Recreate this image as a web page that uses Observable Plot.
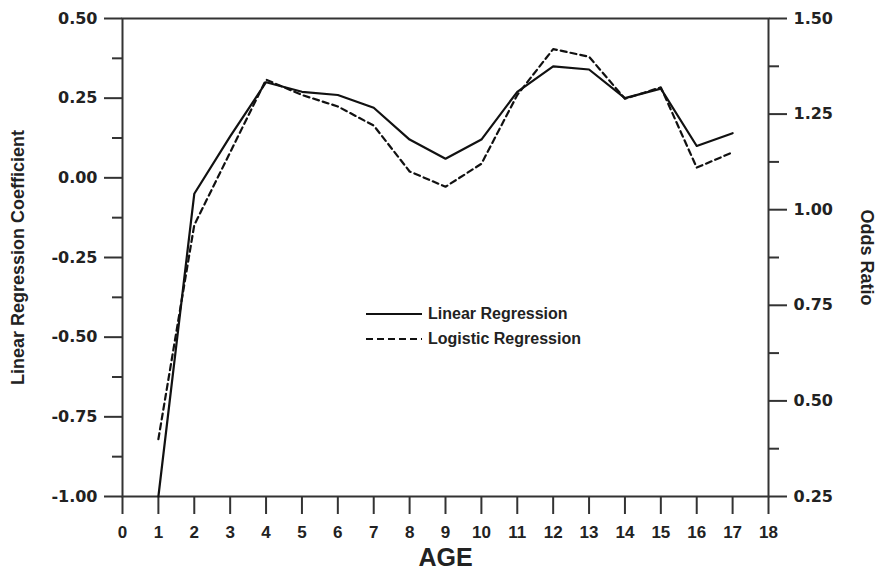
<!DOCTYPE html>
<html><head><meta charset="utf-8">
<script src="https://cdn.jsdelivr.net/npm/d3@7"></script>
<script src="https://cdn.jsdelivr.net/npm/@observablehq/plot@0.6"></script>
<style>
body{margin:0;background:#fff;}
#wrap{position:relative;width:879px;height:579px;}
#legend{position:absolute;left:366px;top:301px;font-family:"Liberation Sans",Arial,sans-serif;font-size:16px;font-weight:bold;color:#222;line-height:25px;}
#legend div{display:flex;align-items:center;height:25px;}
#legend svg{margin-right:6px;}
</style></head><body><div id="wrap"></div>
<script>
const ages = [1, 2, 3, 4, 5, 6, 7, 8, 9, 10, 11, 12, 13, 14, 15, 16, 17];
const linearCoef = [-1.00, -0.05, 0.13, 0.30, 0.27, 0.26, 0.22, 0.12, 0.06, 0.12, 0.27, 0.35, 0.34, 0.25, 0.28, 0.10, 0.14];
const logisticOdds = [0.40, 0.96, 1.15, 1.34, 1.30, 1.27, 1.22, 1.10, 1.06, 1.12, 1.30, 1.42, 1.40, 1.29, 1.32, 1.11, 1.15];
const xTicks = [0, 1, 2, 3, 4, 5, 6, 7, 8, 9, 10, 11, 12, 13, 14, 15, 16, 17, 18];
const leftTicks = [-1.00, -0.75, -0.50, -0.25, 0.00, 0.25, 0.50];
const leftMinor = [-0.875, -0.625, -0.375, -0.125, 0.125, 0.375];
const rightTicks = [0.25, 0.50, 0.75, 1.00, 1.25, 1.50];
const rightMinor = [0.375, 0.625, 0.875, 1.125, 1.375];
const legendLabels = ["Linear Regression", "Logistic Regression"];
const xLabel = "AGE";
const leftLabel = "Linear Regression Coefficient";
const rightLabel = "Odds Ratio";

// right axis (odds ratio 0.25..1.50) mapped onto left scale (-1..0.5)
const toLeft = v => -1 + (v - 0.25) * 1.2;
const fromLeft = y => (y + 1) / 1.2 + 0.25;

const data = ages.map((a, i) => ({age: a, lin: linearCoef[i], odds: logisticOdds[i]}));
const ink = "#222";
const axisFont = {fontFamily: "DejaVu Sans", fontWeight: "bold", fontSize: 16, fill: ink};

const chart = Plot.plot({
  width: 879, height: 579,
  marginLeft: 122, marginRight: 111, marginTop: 18, marginBottom: 83,
  style: {fontFamily: "'Liberation Sans', Arial, sans-serif", background: "#fff", color: ink},
  x: {domain: [0, 18]},
  y: {domain: [-1, 0.5]},
  marks: [
    Plot.axisX(xTicks, {tickSize: 18, tickPadding: 11, stroke: "#333", strokeWidth: 2,
      fontFamily: "'Liberation Sans'", fontWeight: "bold", fontSize: 17, fill: ink, label: null, tickFormat: d => String(d)}),
    Plot.axisY(leftTicks, {anchor: "left", tickSize: 18, tickPadding: 7, stroke: "#333", strokeWidth: 2,
      ...axisFont, label: null, tickFormat: d => d.toFixed(2)}),
    Plot.axisY(leftMinor, {anchor: "left", tickSize: 10, stroke: "#333", strokeWidth: 2, label: null, tickFormat: () => ""}),
    Plot.axisY(rightTicks.map(toLeft), {anchor: "right", tickSize: 18, tickPadding: 7, stroke: "#333", strokeWidth: 2,
      ...axisFont, label: null, tickFormat: d => fromLeft(d).toFixed(2)}),
    Plot.axisY(rightMinor.map(toLeft), {anchor: "right", tickSize: 10, stroke: "#333", strokeWidth: 2, label: null, tickFormat: () => ""}),
    Plot.frame({stroke: "#333", strokeWidth: 2}),
    Plot.line(data, {x: "age", y: "lin", stroke: "#111", strokeWidth: 2.2}),
    Plot.line(data, {x: "age", y: d => toLeft(d.odds), stroke: "#111", strokeWidth: 2.2, strokeDasharray: "6,4"}),
    Plot.text([leftLabel], {text: d => d, frameAnchor: "left", textAnchor: "middle", dx: -104, rotate: -90, fontSize: 18, fontWeight: "bold", fill: ink}),
    Plot.text([rightLabel], {text: d => d, frameAnchor: "right", textAnchor: "middle", dx: 98, rotate: 90, fontSize: 18, fontWeight: "bold", fill: ink}),
    Plot.text([xLabel], {text: d => d, frameAnchor: "bottom", dy: 69, fontSize: 25, fontWeight: "bold", fill: ink})
  ]
});
const wrap = document.getElementById("wrap");
wrap.appendChild(chart);
const leg = document.createElement("div");
leg.id = "legend";
leg.innerHTML = legendLabels.map((t, i) =>
  `<div><svg width="56" height="4"><line x1="0" y1="2" x2="56" y2="2" stroke="#111" stroke-width="2" ${i ? 'stroke-dasharray="7,4"' : ''}/></svg><span>${t}</span></div>`).join("");
wrap.appendChild(leg);
</script></body></html>
